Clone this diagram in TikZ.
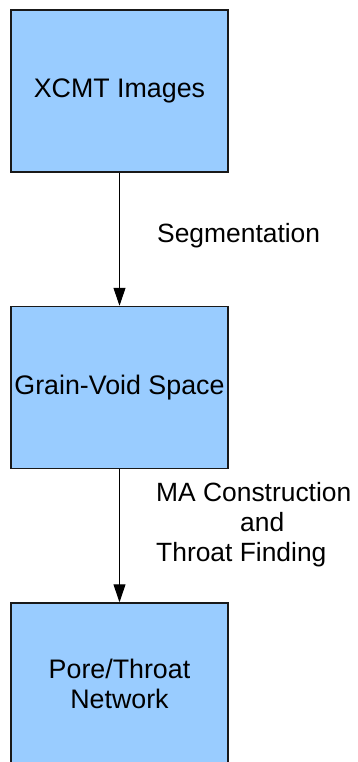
\documentclass[tikz,border=0pt]{standalone}
\usepackage{fontspec}
\setmainfont{Liberation Sans}
\usepackage{xcolor}
\usetikzlibrary{arrows.meta,positioning}
\definecolor{boxblue}{HTML}{99CCFF}

\begin{document}
\begin{tikzpicture}[x=1pt,y=1pt,
    stagebox/.style={draw=black!90,line width=1.5pt,fill=boxblue,
      minimum width=217pt,minimum height=162pt,inner sep=0pt,align=center,
      font=\fontsize{26.8}{30}\selectfont},
    steplabel/.style={inner sep=0pt,font=\fontsize{26.4}{30}\selectfont},
    flow/.style={-{Triangle[length=18pt,width=12pt]},line width=1pt}]
    \useasboundingbox (0,0) rectangle (358,-762);
    \node[stagebox] (xcmt) at (119.5,-91) {XCMT Images};
    \node[stagebox] (grain) at (119.5,-387.5) {Grain-Void Space};
    \node[stagebox] (pore) at (119.5,-684) {Pore/Throat\\Network};
    \draw[flow] (xcmt) -- (grain);
    \draw[flow] (grain) -- (pore);
    \node[steplabel,anchor=base west] (seg) at (157,-242) {Segmentation};
    \node[steplabel,align=left,anchor=north west] (ma) at (156,-482)
      {MA Construction\\\hspace*{84pt}and\\Throat Finding};
\end{tikzpicture}
\end{document}
